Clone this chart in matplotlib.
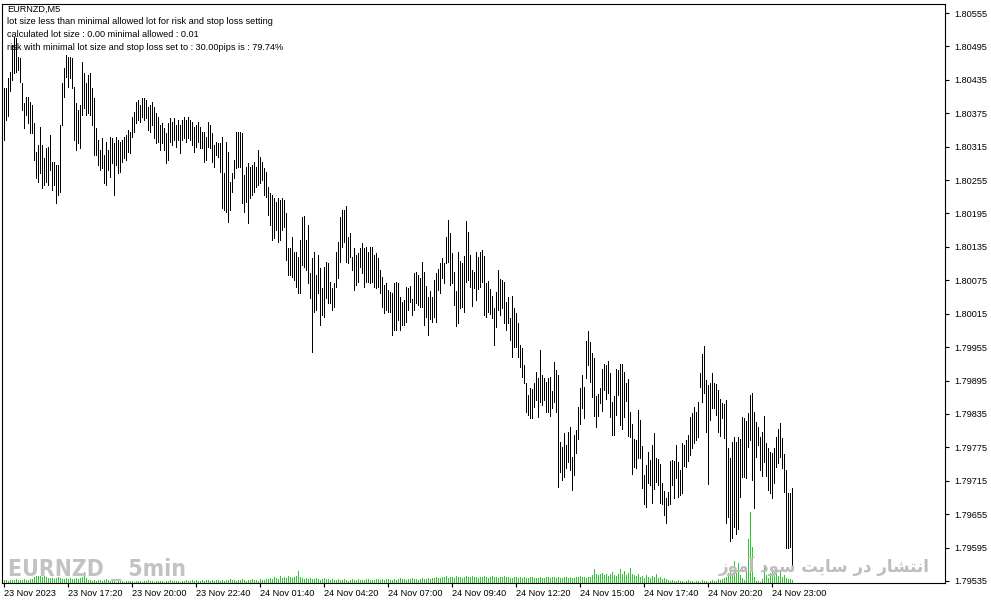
import numpy as np
import matplotlib
matplotlib.use("Agg")
import matplotlib.pyplot as plt

# ---------------- data ----------------
# prices stored in points (0.00001) above PRICE_BASE
PRICE_BASE = 1.79535
POINT = 0.00001

high_pts = [
    885, 885, 903, 914, 963, 977, 975, 941, 939, 894,
    859, 869, 869, 860, 855, 823, 770, 783, 815, 783,
    760, 778, 779, 801, 753, 753, 747, 747, 819, 894,
    921, 945, 941, 941, 939, 887, 859, 846, 855, 932,
    912, 894, 909, 912, 885, 867, 814, 792, 774, 796,
    765, 788, 774, 797, 796, 787, 797, 792, 788, 792,
    797, 801, 810, 806, 833, 842, 860, 864, 855, 867,
    867, 864, 851, 855, 860, 851, 841, 833, 819, 823,
    814, 805, 823, 832, 824, 832, 819, 828, 819, 828,
    833, 828, 833, 828, 824, 815, 819, 824, 815,
    806, 806, 797, 824, 819, 805, 783, 788, 787, 787,
    797, 733, 788, 770, 717, 733, 756, 806, 806, 806,
    805, 729, 744, 751, 744, 747, 753, 744, 774, 762,
    753, 742, 735, 708, 697, 693, 688, 681, 688, 684,
    688, 684, 661, 598, 598, 618, 591, 591, 582, 612,
    654, 656, 612, 639, 553, 580, 591, 550, 585, 562,
    526, 564, 573, 571, 537, 526, 535, 591, 609, 654,
    666, 666, 673, 618, 625, 582, 598, 585, 589, 598,
    607, 598, 600, 591, 600, 600, 585, 589, 580, 559,
    546, 532, 535, 523, 519, 517, 535, 537, 535, 510,
    501, 505, 528, 526, 530, 506, 553, 555, 550, 544,
    573, 555, 530, 510, 521, 510, 541, 553, 560, 571,
    580, 571, 618, 648, 625, 589, 555, 521, 591, 575,
    571, 584, 647, 627, 585, 559, 555, 591, 582, 591,
    594, 584, 535, 539, 524, 512, 490, 519, 559, 542,
    541, 537, 501, 510, 472, 512, 490, 481, 463, 424,
    418, 388, 356, 334, 347, 345, 356, 375, 365, 415,
    370, 365, 357, 365, 366, 341, 393, 379, 370, 250,
    241, 266, 244, 268, 277, 223, 262, 271, 313, 347,
    370, 348, 431, 449, 429, 409, 401, 332, 336, 347,
    381, 390, 388, 395, 374, 321, 332, 381, 379, 390,
    390, 375, 356, 363, 304, 282, 255, 253, 307, 289,
    242, 190, 208, 232, 217, 244, 266, 221, 219, 210,
    176, 162, 149, 160, 216, 217, 216, 244, 214, 199,
    248, 244, 253, 262, 295, 302, 313, 304, 321, 374,
    408, 422, 361, 352, 356, 374, 356, 354, 343, 327,
    320, 318, 325, 239, 221, 250, 259, 250, 259, 255,
    295, 293, 287, 302, 334, 338, 304, 286, 277, 259,
    268, 296, 248, 239, 232, 230, 239, 259, 273, 284,
    257, 228, 199, 158, 158, 167,
]

low_pts = [
    792, 828, 835, 880, 900, 912, 914, 918, 896, 846,
    814, 837, 823, 805, 805, 756, 724, 717, 733, 706,
    711, 717, 711, 738, 702, 711, 679, 693, 699, 819,
    869, 905, 887, 903, 885, 792, 774, 787, 778, 837,
    850, 837, 841, 837, 819, 765, 765, 747, 738, 742,
    715, 711, 738, 726, 751, 693, 747, 733, 735, 753,
    760, 756, 770, 769, 797, 806, 823, 828, 824, 833,
    828, 832, 810, 806, 819, 796, 787, 788, 774, 787,
    774, 751, 756, 788, 783, 792, 779, 792, 769, 792,
    796, 788, 796, 792, 783, 770, 779, 788, 778,
    778, 753, 756, 779, 778, 753, 744, 765, 762, 735,
    670, 666, 663, 645, 666, 699, 724, 742, 744, 744,
    679, 663, 681, 643, 688, 693, 699, 708, 711, 715,
    720, 693, 690, 657, 639, 612, 616, 630, 609, 612,
    630, 636, 577, 550, 550, 546, 541, 528, 517, 517,
    568, 564, 559, 535, 508, 411, 483, 487, 517, 460,
    478, 474, 508, 499, 499, 487, 492, 528, 544, 573,
    600, 609, 573, 571, 582, 559, 523, 532, 537, 564,
    553, 528, 537, 537, 535, 537, 528, 526, 528, 517,
    492, 481, 487, 483, 483, 442, 451, 451, 469, 451,
    460, 460, 465, 487, 501, 478, 487, 499, 496, 492,
    492, 460, 474, 442, 471, 465, 474, 465, 523, 517,
    544, 535, 571, 573, 532, 535, 496, 458, 463, 490,
    492, 483, 537, 541, 528, 494, 526, 505, 524, 528,
    537, 478, 474, 483, 480, 472, 424, 456, 487, 478,
    490, 463, 451, 463, 433, 402, 420, 420, 402, 384,
    366, 356, 304, 298, 293, 293, 313, 325, 295, 321,
    316, 325, 304, 304, 296, 311, 321, 304, 169, 196,
    181, 187, 203, 214, 199, 163, 190, 230, 255, 282,
    311, 293, 365, 388, 357, 330, 296, 277, 296, 320,
    305, 343, 327, 338, 295, 262, 262, 298, 334, 280,
    273, 295, 323, 260, 259, 192, 205, 203, 221, 221,
    167, 138, 133, 176, 172, 140, 165, 178, 172, 140,
    138, 119, 104, 137, 138, 172, 149, 185, 151, 154,
    158, 207, 205, 216, 226, 239, 248, 253, 259, 348,
    321, 338, 268, 174, 289, 311, 311, 298, 268, 260,
    293, 257, 104, 115, 72, 77, 97, 84, 93, 151,
    187, 187, 185, 241, 253, 181, 131, 223, 244, 199,
    189, 214, 189, 163, 158, 149, 176, 205, 212, 223,
    203, 160, 59, 59, 61, 29,
]

# tick volume (relative units)
volume = [
    3, 3, 2, 3, 3, 3, 4, 3, 3, 3, 4, 3, 3, 4, 4,
    6, 7, 7, 7, 6, 7, 6, 5,
    5, 5, 4, 5, 6, 5, 4, 4, 5,
    4, 5, 4, 4, 5, 4, 5, 6,
    11,
    5, 3, 3, 2, 3, 2, 3, 3, 2, 3, 4, 3,
    2, 2, 2, 1, 2, 2, 2, 1, 2, 2, 2, 2, 1, 2, 2, 2, 1, 2, 2, 3,
    2, 2, 1, 2, 2, 2, 2, 1, 2, 2, 3, 2, 2, 2, 2, 1, 2, 2, 3, 2,
    2, 3, 2, 3, 2, 2, 3, 2, 3, 3, 2, 3, 2, 3, 3, 2, 3, 2, 3, 3,
    4, 3, 3, 2, 3, 3, 4, 3, 2, 3, 3, 4, 3, 3, 2, 4, 3, 3, 4,
    4, 5, 4, 6, 5, 4, 7, 5, 6, 5, 7, 6, 5, 6, 7,
    12,
    6, 5, 4, 5, 4, 5, 4, 4, 5, 4, 3, 4, 5, 4, 4, 3, 4,
    3, 3, 4, 3, 3, 4, 3, 2, 3, 4, 3, 3, 4, 3, 3, 3, 4, 4, 3, 3,
    3, 4, 4, 3, 4, 3, 4, 4, 3, 3, 4, 3, 4, 5, 4, 4, 3, 4, 4, 5,
    4, 4, 3, 4, 5, 4, 4, 5, 4, 5,
    5, 6, 5, 5, 6, 6, 7, 5, 6, 6, 5, 7, 6, 6, 5, 6, 7, 6, 6, 7, 6, 6, 5,
    6, 6, 7, 6, 5, 6, 7, 6, 6, 5, 6, 6, 7, 6, 6, 5, 5, 6, 6, 5,
    6, 5, 6, 5, 5, 6, 6, 5, 5, 5, 6, 5, 5, 6, 6, 5, 6, 6, 5, 6,
    5, 5, 6, 6, 5, 6, 5, 5, 6, 6, 7, 6, 6, 5, 6,
    6, 8, 14, 9, 8, 9, 10, 8, 9, 7, 9, 11, 8, 7, 9, 14, 9, 12, 8, 10,
    15, 9, 8, 7, 9,
    6, 7, 5, 8, 6, 5, 7, 6, 9, 5, 6, 4, 5, 4,
    3, 2, 3, 2, 2, 3, 2, 2, 1, 2, 3, 2, 2, 1, 2, 2, 1, 3, 2, 2, 1, 2, 3, 2,
    2, 4, 3, 4, 5,
    6, 10, 12, 9, 22, 10, 20, 8, 5, 3, 12, 44, 71, 36, 6, 2, 2, 1, 4, 18,
    8, 5, 10, 14, 11, 9, 7, 12, 6, 8, 5, 4, 4, 3,
]

y_tick_labels = ["1.79535", "1.79595", "1.79655", "1.79715", "1.79775",
                 "1.79835", "1.79895", "1.79955", "1.80015", "1.80075",
                 "1.80135", "1.80195", "1.80255", "1.80315", "1.80375",
                 "1.80435", "1.80495", "1.80555"]

time_labels = ["23 Nov 2023", "23 Nov 17:20", "23 Nov 20:00", "23 Nov 22:40",
               "24 Nov 01:40", "24 Nov 04:20", "24 Nov 07:00", "24 Nov 09:40",
               "24 Nov 12:20", "24 Nov 15:00", "24 Nov 17:40", "24 Nov 20:20",
               "24 Nov 23:00"]
time_label_bars = [0, 32, 64, 96, 128, 160, 192, 224, 256, 288, 320, 352, 384]

info_lines = ["EURNZD,M5",
              "lot size less than minimal allowed lot for risk and stop loss setting",
              "calculated lot size : 0.00 minimal allowed : 0.01",
              "risk with minimal lot size and stop loss set to : 30.00pips is : 79.74%"]

watermark_left = "EURNZD _ 5min"
# "انتشار در سایت سود آموز" written with Arabic presentation forms (visual order)
watermark_right = ("\uFEAF\uFEEE\uFEE3\uFE81 \uFEA9\uFEEE\uFEB3 "
                   "\uFE96\uFEF3\uFE8E\uFEB3 \uFEAD\uFEA9 "
                   "\uFEAD\uFE8E\uFEB8\uFE98\uFEE7\uFE8D")

# ---------------- figure ----------------
W, H = 991, 605
fig = plt.figure(figsize=(W / 100, H / 100), dpi=100)
fig.patch.set_facecolor("white")

ax = fig.add_axes([2 / W, 22 / H, 943 / W, 579 / H])
vax = ax.twinx()

high = PRICE_BASE + np.array(high_pts) * POINT
low = PRICE_BASE + np.array(low_pts) * POINT
vol = np.array(volume, dtype=float)
x = np.arange(len(high))

ax.vlines(x, low, high, colors="black", linewidth=0.72, antialiased=False, zorder=3)
vax.vlines(x, 0, vol, colors="#2DC82D", linewidth=0.72, antialiased=False)

# half-pixel offset so every 1-px bar sits on a pixel centre
ax.set_xlim(-0.75, 470.75)
ax.set_ylim(1.795314, 1.805712)
vax.set_ylim(0, vol.max() * 579 / 71)

# put price axes above the volume axes
ax.set_zorder(vax.get_zorder() + 1)
ax.patch.set_visible(False)
vax.patch.set_facecolor("white")
vax.set_yticks([])
for s in vax.spines.values():
    s.set_visible(False)

for s in ax.spines.values():
    s.set_color("black")
    s.set_linewidth(0.8)

small_font = ["Liberation Sans", "DejaVu Sans"]

ax.set_yticks([float(t) for t in y_tick_labels])
ax.set_yticklabels(y_tick_labels, fontsize=6.6, family=small_font)
ax.yaxis.tick_right()
ax.tick_params(axis="y", direction="out", length=3, width=0.8, pad=4,
               colors="black", left=False, labelleft=False, right=True, labelright=True)

ax.set_xticks(time_label_bars)
ax.set_xticklabels(time_labels, fontsize=6.6, family=small_font)
for lab in ax.get_xticklabels():
    lab.set_horizontalalignment("left")
ax.tick_params(axis="x", direction="out", length=3, width=0.8, pad=1.5, colors="black")

# info texts in top-left corner
for i, line in enumerate(info_lines):
    fig.text(7 / W, 1 - (9 + 12.8 * i) / H, line, fontsize=6.6, family=small_font,
             color="black", ha="left", va="center", zorder=10)

# watermarks
fig.text(8 / W, 1 - 576 / H, watermark_left, fontsize=16.5, fontweight="bold",
         fontstretch="condensed", family=["DejaVu Sans"], color="#C2C2C2",
         ha="left", va="baseline", zorder=10)
fig.text(930 / W, 1 - 566 / H, watermark_right, fontsize=12, fontweight="bold",
         family=["DejaVu Sans"], color="#BDBDBD", ha="right", va="center", zorder=10)

fig.savefig("out.png", dpi=100, facecolor="white")
